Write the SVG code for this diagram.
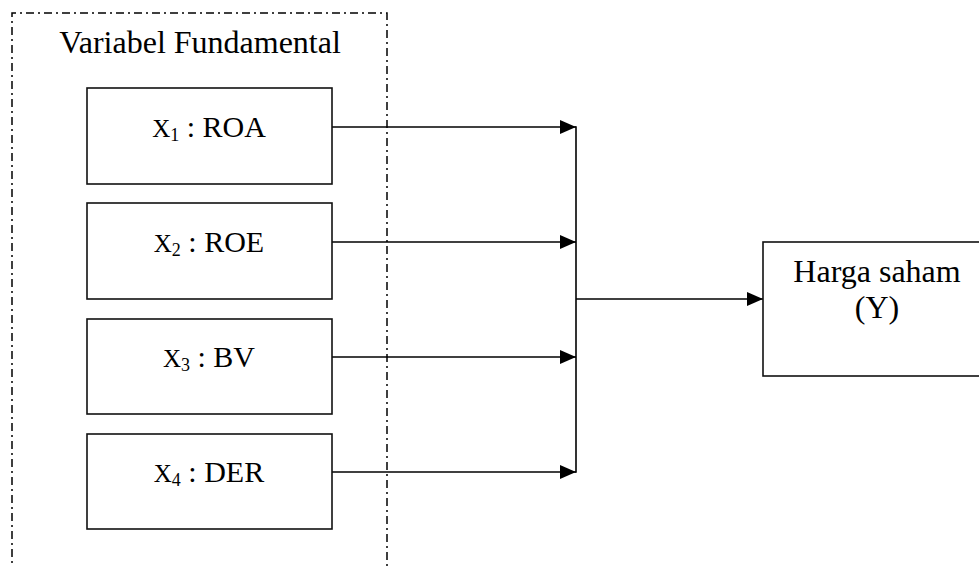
<svg xmlns="http://www.w3.org/2000/svg" width="979" height="567" viewBox="0 0 979 567">
  <style>
    .box { fill: #fff; stroke: #111; stroke-width: 1.6; }
    .dashdot { fill: none; stroke: #000; stroke-width: 1.5; stroke-dasharray: 8 4 2 4; }
    .conn { fill: none; stroke: #000; stroke-width: 1.6; }
    text { font-family: "Liberation Serif", "Times New Roman", serif; fill: #000; }
    .lbl { font-size: 32px; }
    .var { font-size: 30px; }
    .vx { font-size: 25px; }
    .vsub { font-size: 18px; }
  </style>
  <defs>
    <marker id="arr" markerUnits="userSpaceOnUse" markerWidth="16" markerHeight="14" refX="16" refY="7" orient="auto">
      <path d="M0,0 L16,7 L0,14 Z" fill="#000"/>
    </marker>
  </defs>
  <rect width="979" height="567" fill="#fff"/>

  <g id="frame">
    <path class="dashdot" d="M12,575 L12,13 L387,13 L387,575"/>
    <text class="lbl" x="200" y="53" text-anchor="middle">Variabel Fundamental</text>
  </g>

  <g id="connectors">
    <line class="conn" x1="332" y1="127" x2="576" y2="127" marker-end="url(#arr)"/>
    <line class="conn" x1="332" y1="242" x2="576" y2="242" marker-end="url(#arr)"/>
    <line class="conn" x1="332" y1="357" x2="576" y2="357" marker-end="url(#arr)"/>
    <line class="conn" x1="332" y1="472" x2="576" y2="472" marker-end="url(#arr)"/>
    <line class="conn" x1="576" y1="126.2" x2="576" y2="472.8"/>
    <line class="conn" x1="576" y1="299" x2="763" y2="299" marker-end="url(#arr)"/>
  </g>

  <g id="x1">
    <rect class="box" x="87" y="88" width="245" height="96"/>
    <text class="var" x="209" y="137" text-anchor="middle"><tspan class="vx">X</tspan><tspan class="vsub" dy="4">1</tspan><tspan dy="-4"> : ROA</tspan></text>
  </g>
  <g id="x2">
    <rect class="box" x="87" y="203" width="245" height="96"/>
    <text class="var" x="209" y="252" text-anchor="middle"><tspan class="vx">X</tspan><tspan class="vsub" dy="4">2</tspan><tspan dy="-4"> : ROE</tspan></text>
  </g>
  <g id="x3">
    <rect class="box" x="87" y="319" width="245" height="95"/>
    <text class="var" x="209" y="367" text-anchor="middle"><tspan class="vx">X</tspan><tspan class="vsub" dy="4">3</tspan><tspan dy="-4"> : BV</tspan></text>
  </g>
  <g id="x4">
    <rect class="box" x="87" y="434" width="245" height="95"/>
    <text class="var" x="209" y="482" text-anchor="middle"><tspan class="vx">X</tspan><tspan class="vsub" dy="4">4</tspan><tspan dy="-4"> : DER</tspan></text>
  </g>

  <g id="y">
    <rect class="box" x="763" y="242" width="227" height="134"/>
    <text class="lbl" x="877" y="282" text-anchor="middle">Harga saham</text>
    <text class="lbl" x="877" y="318" text-anchor="middle">(Y)</text>
  </g>
</svg>
